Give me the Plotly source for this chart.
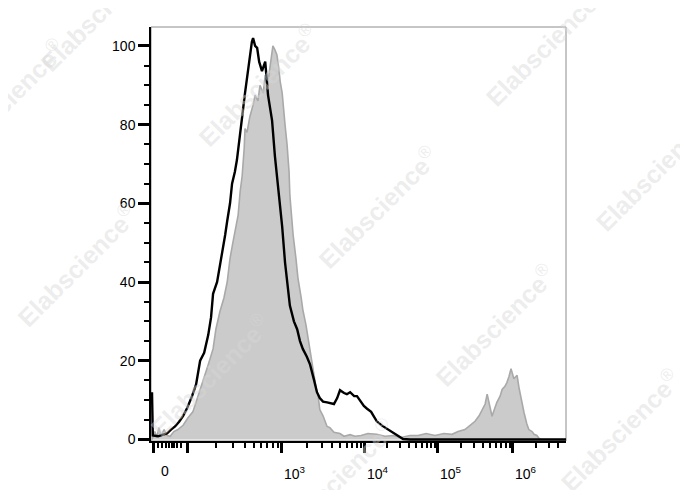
import math
import plotly.graph_objects as go

# ---- data (display channel 0..1024, event counts normalised to mode) ----
black_ch = [0, 2, 15, 27, 37, 47, 57, 67, 77, 87, 99, 109, 119, 129, 139, 146, 151, 161, 168, 173,
            181, 186, 193, 198, 205, 210, 218, 223, 230, 235, 240, 242, 247, 250, 255, 260, 265, 272,
            280, 287, 292, 297, 304, 312, 317, 322, 329, 336, 341, 351, 359, 366, 373, 383, 391, 401,
            408, 415, 423, 433, 440, 450, 458, 465, 475, 482, 490, 500, 507, 514, 524, 532, 542, 549,
            556, 569, 584, 596, 608, 621, 638, 1024]
black_cnt = [12, 1.0, 0.8, 1.2, 1.5, 2.5, 3.3, 4.5, 6, 8, 11, 14, 20, 22, 26.5, 31, 37, 40, 44, 47,
             52, 55.5, 60, 65, 68, 71, 77, 82, 88, 92, 96, 98, 101, 102, 100, 99.5, 96, 93.6,
             96, 87.5, 84, 81, 72, 64, 58, 54, 45, 38, 34, 30, 28, 25, 23, 21, 19, 15,
             12, 10.5, 9.6, 9.4, 9.2, 9, 10.5, 12.5, 11.8, 11.5, 12, 11, 11, 10, 8.5, 7.8, 7, 5.8,
             4.6, 3.5, 2.5, 1.6, 0.8, 0.1, 0, 0]

gray_ch = [0, 7, 12, 17, 22, 30, 37, 45, 54, 64, 77, 89, 101, 114, 126, 139, 151, 158, 168, 178,
           186, 193, 200, 208, 213, 218, 223, 228, 230, 235, 242, 250, 255, 262, 267, 275, 280, 287,
           292, 297, 299, 304, 309, 314, 317, 322, 324, 329, 334, 339, 341, 346, 349, 356, 361, 369,
           373, 381, 386, 393, 398, 406, 411, 415, 423, 433, 440, 450, 465, 475, 490, 502, 517, 534,
           556, 576, 596, 616, 638, 658, 678, 700, 722, 742, 757, 774, 786, 799, 809, 816, 824, 829,
           836, 841, 848, 853, 861, 866, 873, 878, 883, 888, 895, 903, 908, 913, 920, 927, 932, 940,
           945, 952, 957, 962, 1024]
gray_cnt = [0, 2, 0.5, 3, 1, 2.5, 1, 0.8, 2, 2.5, 3.6, 5.5, 7, 11, 14.8, 19, 23, 28, 32.5, 36,
            40, 46, 50, 55, 57, 63, 67, 74, 79, 78, 82, 85, 87.5, 86, 90, 88, 92.6, 91,
            94.4, 98, 100, 99, 97.7, 94, 91, 88, 85, 80, 75, 68, 62, 56, 52, 46, 41, 36,
            33, 29, 25.7, 21, 18, 13, 11, 7.6, 6, 3.3, 3, 1.8, 1.5, 0.8, 1.2, 0.8, 1, 1.5,
            1.3, 0.8, 1, 0.5, 1, 1, 1.5, 1, 1.5, 1.3, 2, 2.5, 3.5, 4.6, 6, 7.6, 9, 11.5,
            8, 5.9, 8, 9.4, 11, 12.7, 13.5, 14.5, 16, 18, 15.4, 16.3, 13, 10, 6.9, 4, 2.5, 2,
            1.3, 1, 0.3, 0, 0]

# axis calibration: display channel of each decade
decade_exp = [2, 3, 4, 5, 6]
decade_ch = [89, 321.5, 526.7, 707.3, 892.8]
neg100_ch = 2.5
linear_minor_ch = [14.8, 24.7, 33.9, 42, 48.7, 55.1, 61, 71.7]
x_labels = ["0", "10<sup>3</sup>", "10<sup>4</sup>", "10<sup>5</sup>", "10<sup>6</sup>"]
zero_label_ch = 32

y_major = [0, 20, 40, 60, 80, 100]
y_minor = [v for v in range(5, 105, 5) if v % 20 != 0]

# minor x ticks from the decade calibration
x_minor = list(linear_minor_ch)
for i in range(len(decade_ch)):
    lo = decade_ch[i]
    width = decade_ch[i + 1] - lo if i + 1 < len(decade_ch) else decade_ch[-1] - decade_ch[-2]
    mults = range(2, 10) if i + 1 < len(decade_ch) else range(2, 5)
    for m in mults:
        x_minor.append(lo + width * math.log10(m))

x_major = [neg100_ch] + decade_ch

FONT = "Liberation Sans, Arial, sans-serif"

fig = go.Figure()
fig.add_trace(go.Scatter(x=gray_ch, y=gray_cnt, mode="lines", fill="tozeroy",
                         fillcolor="#cbcbcb", line=dict(color="#a9a9a9", width=1.6),
                         showlegend=False, hoverinfo="skip"))
fig.add_trace(go.Scatter(x=black_ch, y=black_cnt, mode="lines",
                         line=dict(color="#000000", width=2.4),
                         showlegend=False, hoverinfo="skip"))

annotations = []
# x tick labels
annotations.append(dict(x=zero_label_ch, y=-0.073, xref="x", yref="paper", text=x_labels[0],
                        showarrow=False, xanchor="center", yanchor="middle",
                        font=dict(family=FONT, size=14, color="black")))
for lab, ch in zip(x_labels[1:], decade_ch[1:]):
    annotations.append(dict(x=ch, y=-0.078, xref="x", yref="paper", text=lab,
                            showarrow=False, xanchor="left", yanchor="middle", xshift=0,
                            font=dict(family=FONT, size=14, color="black")))

# watermarks
wm_pos = [(0.258, 0.860), (0.547, 0.565), (0.829, 0.280), (1.130, 0.027), (0.949, 0.957),
          (1.214, 0.655), (-0.178, 0.425), (-0.352, 0.824), (-0.123, 1.041), (0.142, 0.159),
          (0.443, -0.094)]
for wx, wy in wm_pos:
    annotations.append(dict(x=wx, y=wy, xref="paper", yref="paper",
                            text="<b>Elabscience</b><sup>®</sup>",
                            showarrow=False, textangle=-45,
                            font=dict(family=FONT, size=25, color="rgba(215,215,215,0.45)"),
                            xanchor="center", yanchor="middle"))

fig.update_layout(
    width=688, height=490,
    margin=dict(l=143, r=130, t=19, b=57),
    paper_bgcolor="white", plot_bgcolor="white",
    font=dict(family=FONT, size=14, color="black"),
    xaxis=dict(range=[-2.5, 1024], showgrid=False, zeroline=False,
               showline=True, linecolor="black", linewidth=1.5,
               ticks="outside", tickvals=x_major, ticklen=10, tickwidth=3, tickcolor="black",
               showticklabels=False,
               minor=dict(tickvals=x_minor, ticks="outside", ticklen=5, tickwidth=1.5,
                          tickcolor="black", showgrid=False)),
    yaxis=dict(range=[-0.4, 104.8], showgrid=False, zeroline=False,
               showline=True, linecolor="black", linewidth=1.5,
               ticks="outside", tickvals=y_major, ticklen=11, tickwidth=3, tickcolor="black",
               tickfont=dict(family=FONT, size=14, color="black"),
               minor=dict(tickvals=y_minor, ticks="outside", ticklen=5, tickwidth=1.5,
                          tickcolor="black", showgrid=False)),
    shapes=[dict(type="rect", xref="paper", yref="paper", x0=0, x1=1, y0=0, y1=1,
                 line=dict(color="#8c8c8c", width=1), layer="below")],
    annotations=annotations,
)

fig.write_html("out.html")
